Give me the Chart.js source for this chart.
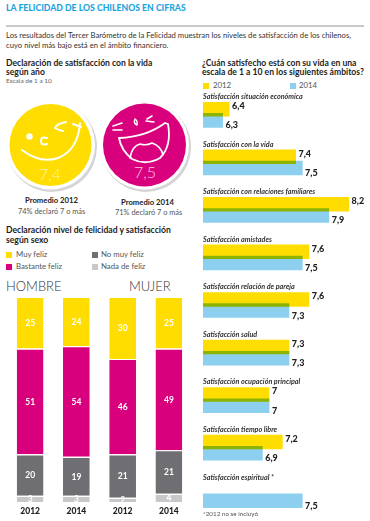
<!DOCTYPE html>
<html lang="es">
<head>
<meta charset="utf-8">
<title>La felicidad de los chilenos en cifras</title>
<script src="https://cdn.jsdelivr.net/npm/chart.js@4"></script>
<style>
html, body { margin: 0; padding: 0; background: #fff; }
body { position: relative; width: 370px; height: 521px; overflow: hidden; font-family: Lato, sans-serif; color: #222; }
.t { position: absolute; white-space: nowrap; line-height: 1; }
.h { font-weight: 700; font-size: 8.6px; color: #1d1d1d; }
.sw { position: absolute; width: 6px; height: 6px; }
.leg { font-size: 7.8px; color: #555; }
.sexo { font-size: 13px; font-weight: 300; color: #333; }
canvas { position: absolute; }
svg { position: absolute; left: 0; top: 0; }
</style>
</head>
<body>
<div class="t" style="left:6px;top:3.5px;font-size:8.7px;font-weight:900;color:#1fa5de">LA FELICIDAD DE LOS CHILENOS EN CIFRAS</div>
<div style="position:absolute;left:6px;top:25px;width:358px;height:1.5px;background:#c9c9c9"></div>
<div class="t" style="left:6px;top:32px;font-size:7.7px;color:#333">Los resultados del Tercer Barómetro de la Felicidad muestran los niveles de satisfacción de los chilenos,</div>
<div class="t" style="left:6px;top:42px;font-size:7.7px;color:#333">cuyo nivel más bajo está en el ámbito financiero.</div>

<div class="t h" style="left:6px;top:58.7px">Declaración de satisfacción con la vida</div>
<div class="t h" style="left:6px;top:67.8px">según año</div>
<div class="t" style="left:6px;top:78px;font-size:6.5px;color:#666">Escala de 1 a 10</div>

<svg width="370" height="521" fill="none" stroke="#fff" stroke-linecap="round" stroke-linejoin="round">
  <circle cx="52" cy="147" r="45" fill="#d5d5d8" stroke="none"/>
  <circle cx="50.5" cy="145" r="44.5" fill="#fff" stroke="none"/>
  <circle cx="50.5" cy="145" r="41" fill="#ffdd00" stroke="none"/>
  <circle cx="29.5" cy="136.5" r="3.2" fill="#fff" stroke="none"/>
  <path d="M47 138 Q41 136 41 141 Q41 146 47 144" stroke-width="2"/>
  <path d="M22 150 Q40 164 58 158 Q78 150 80 123 M73 124 L81 127" stroke-width="2"/>
  <path d="M66 122 Q56 124 55 128 Q58 130 63 131" stroke-width="2"/>
  <text x="50" y="180" text-anchor="middle" font-family="Lato" font-weight="300" font-size="16" fill="#fff5a8" stroke="none">7,4</text>

  <circle cx="146" cy="147" r="45" fill="#d5d5d8" stroke="none"/>
  <circle cx="144.5" cy="145" r="44.5" fill="#fff" stroke="none"/>
  <circle cx="144.5" cy="145" r="41.5" fill="#d9007e" stroke="none"/>
  <path d="M113 126 L122 123 M113 130 L122 130 M147 119 L152 116 M146 121 L154 122" stroke-width="1.6"/>
  <path d="M135 119 Q133 123 137 125 Q138 121 135 119" stroke-width="1.4"/>
  <path d="M119 138 Q146 137 165 123 L168 124 Q172 146 160 158 Q146 166 132 159 Q121 150 119 138 Z" stroke-width="1.8"/>
  <path d="M130 158 Q132 146 140 144 Q146 146 152 143 Q161 146 163 155" stroke-width="1.6"/>
  <text x="145" y="178" text-anchor="middle" font-family="Lato" font-weight="300" font-size="16" fill="#ffc4e4" stroke="none">7,5</text>
</svg>

<div class="t" style="left:25px;top:197px;font-size:7.7px;font-weight:700">Promedio 2012</div>
<div class="t" style="left:18px;top:207.5px;font-size:7.4px;color:#555">74% declaró 7 o más</div>
<div class="t" style="left:121px;top:198.5px;font-size:7.7px;font-weight:700">Promedio 2014</div>
<div class="t" style="left:115px;top:208.5px;font-size:7.4px;color:#555">71% declaró 7 o más</div>

<div class="t h" style="left:6px;top:226.2px">Declaración nivel de felicidad y satisfacción</div>
<div class="t h" style="left:6px;top:235.5px">según sexo</div>

<div class="sw" style="left:6px;top:252px;background:#ffdd00"></div>
<div class="t leg" style="left:16px;top:251px">Muy feliz</div>
<div class="sw" style="left:92px;top:252px;background:#6e6e73"></div>
<div class="t leg" style="left:101px;top:251px">No muy feliz</div>
<div class="sw" style="left:6px;top:264px;background:#d9007e"></div>
<div class="t leg" style="left:16px;top:263px">Bastante feliz</div>
<div class="sw" style="left:92px;top:264px;background:#c8c8ca"></div>
<div class="t leg" style="left:101px;top:263px">Nada de feliz</div>

<div class="t sexo" style="left:6px;top:280px">HOMBRE</div>
<div class="t sexo" style="left:129px;top:280px">MUJER</div>
<canvas id="sexo" width="185" height="223" style="left:7px;top:296px"></canvas>

<div class="t h" style="left:202px;top:59px">¿Cuán satisfecho está con su vida en una</div>
<div class="t h" style="left:202px;top:67.8px">escala de 1 a 10 en los siguientes ámbitos?</div>
<div class="sw" style="left:203px;top:83px;background:#ffdd00"></div>
<div class="t leg" style="left:213px;top:81.5px">2012</div>
<div class="sw" style="left:290px;top:83px;background:#8ccfee"></div>
<div class="t leg" style="left:299px;top:81.5px">2014</div>
<canvas id="ambitos" width="167" height="428" style="left:203px;top:90.5px"></canvas>
<div class="t" style="left:203px;top:511px;font-size:6.3px;color:#555">*2012 no se incluyó</div>

<script>
// ── Datos ─────────────────────────────────────────────────────────────────
const anios     = ['2012', '2014', '2012', '2014'];
const muyFeliz  = [25, 24, 30, 25];
const bastante  = [51, 54, 46, 49];
const noMuy     = [20, 19, 21, 21];
const nada      = [3, 3, 2, 4];

const ambitos = [
    'Satisfacción situación económica',
    'Satisfacción con la vida',
    'Satisfacción con relaciones familiares',
    'Satisfacción amistades',
    'Satisfacción relación de pareja',
    'Satisfacción salud',
    'Satisfacción ocupación principal',
    'Satisfacción tiempo libre',
    'Satisfacción espiritual *',
];
const valores2012 = [6.4, 7.4, 8.2, 7.6, 7.6, 7.3, 7, 7.2, null];
const valores2014 = [6.3, 7.5, 7.9, 7.5, 7.3, 7.3, 7, 6.9, 7.5];

const AMARILLO = '#ffdd00', MAGENTA = '#d9007e', GRIS = '#6e6e73', GRIS_CLARO = '#c8c8ca', CELESTE = '#8ccfee';

// ── Barras apiladas por sexo ──────────────────────────────────────────────
// las columnas del original llegan todas al 100 aunque sumen 99
const totales = anios.map((_, i) => muyFeliz[i] + bastante[i] + noMuy[i] + nada[i]);
const comoPct = arr => arr.map((v, i) => v / totales[i] * 100);

function serie(label, arr, color) {
    return {
        label: label,
        data: comoPct(arr),
        crudos: arr,
        backgroundColor: color,
        borderColor: '#fff',
        borderWidth: { top: 1.2, bottom: 0, left: 0, right: 0 },
        borderSkipped: false,
    };
}

const etiquetasSexo = {
    id: 'etiquetasSexo',
    afterDatasetsDraw(chart) {
        const ctx = chart.ctx;
        ctx.save();
        ctx.font = '700 8.5px Lato';
        ctx.fillStyle = '#fff';
        ctx.textAlign = 'center';
        ctx.textBaseline = 'middle';
        chart.data.datasets.forEach((ds, d) => {
            chart.getDatasetMeta(d).data.forEach((bar, i) => {
                ctx.fillText(ds.crudos[i], bar.x, (bar.y + bar.base) / 2 + 0.5);
            });
        });
        ctx.restore();
    }
};

new Chart(document.getElementById('sexo'), {
    type: 'bar',
    data: {
        labels: anios,
        datasets: [
            serie('Nada de feliz', nada, GRIS_CLARO),
            serie('No muy feliz', noMuy, GRIS),
            serie('Bastante feliz', bastante, MAGENTA),
            serie('Muy feliz', muyFeliz, AMARILLO),
        ]
    },
    options: {
        responsive: false,
        animation: false,
        barPercentage: 0.578,
        categoryPercentage: 1,
        layout: { padding: { top: 0.7, left: 0, right: 0, bottom: 0 } },
        plugins: { legend: { display: false }, tooltip: { enabled: false } },
        scales: {
            x: {
                stacked: true,
                grid: { display: false, drawTicks: false },
                border: { display: false },
                afterFit: s => { s.height = 17; s.paddingLeft = 0; s.paddingRight = 0; },
                ticks: { color: '#222', font: { family: 'Lato', size: 8.5, weight: '900' }, padding: 4 }
            },
            y: { stacked: true, display: false, min: 0, max: 100 }
        }
    },
    plugins: [etiquetasSexo]
});

// ── Barras horizontales por ámbito ────────────────────────────────────────
const conComa = v => String(v).replace('.', ',');

// el verde donde se cruzan las barras sale de multiplicar amarillo y celeste
const cruce = {
    id: 'cruce',
    beforeDatasetsDraw(chart) {
        chart.ctx.save();
        chart.ctx.globalCompositeOperation = 'multiply';
    },
    afterDatasetsDraw(chart) {
        chart.ctx.restore();
    }
};

const etiquetasAmbitos = {
    id: 'etiquetasAmbitos',
    afterDraw(chart) {
        const ctx = chart.ctx;
        ctx.save();
        ctx.font = '900 9px Lato';
        ctx.fillStyle = '#222';
        ctx.textBaseline = 'middle';
        chart.data.datasets.forEach((ds, d) => {
            const desplaza = d === 0 ? -3 : 5;
            chart.getDatasetMeta(d).data.forEach((bar, i) => {
                if (ds.data[i] === null) return;
                ctx.fillText(conComa(ds.data[i]), bar.x + 2.5, bar.y + desplaza);
            });
        });
        ctx.restore();
    }
};

new Chart(document.getElementById('ambitos'), {
    type: 'bar',
    data: {
        labels: ambitos,
        datasets: [
            { label: '2012', data: valores2012, backgroundColor: AMARILLO },
            { label: '2014', data: valores2014, backgroundColor: CELESTE },
        ]
    },
    options: {
        indexAxis: 'y',
        responsive: false,
        animation: false,
        barPercentage: 1.295,
        categoryPercentage: 0.4716,
        plugins: { legend: { display: false }, tooltip: { enabled: false } },
        scales: {
            x: { display: false, min: 6, max: 8.515 },
            y: {
                grid: { display: false, drawTicks: false },
                border: { display: false },
                afterFit: s => { s.paddingTop = 0; s.paddingBottom = 0; },
                ticks: {
                    mirror: true,
                    padding: 0,
                    labelOffset: -18,
                    color: '#333',
                    font: { family: 'Lato', size: 7.2, weight: '700', style: 'italic' },
                    autoSkip: false
                }
            }
        }
    },
    plugins: [cruce, etiquetasAmbitos]
});
</script>
</body>
</html>
